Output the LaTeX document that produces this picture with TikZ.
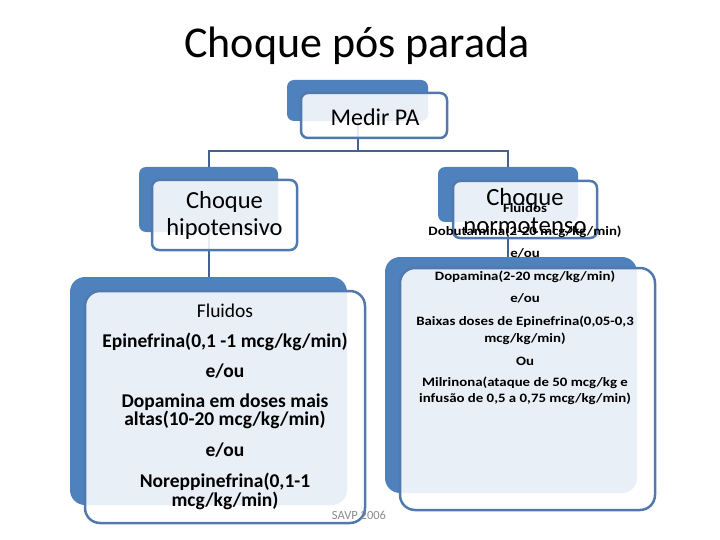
\documentclass[tikz,border=0pt]{standalone}
\usepackage{fontspec}
\setmainfont{Carlito}
\newfontfamily\widefont[FakeStretch=1.16]{Carlito}
\usepackage{xcolor}
\usepackage{tikz}
\usetikzlibrary{shapes,arrows}

\definecolor{boxblue}{HTML}{4F81BD}
\definecolor{edgeblue}{HTML}{5179AE}
\definecolor{linkblue}{HTML}{44648F}
\definecolor{notegray}{HTML}{8C8C8C}

\tikzset{
    backbox/.style={rectangle, rounded corners=7pt, fill=boxblue, draw=none, inner sep=0pt},
    frontbox/.style={rectangle, rounded corners=7pt, draw=edgeblue, line width=2.5pt, fill=white, fill opacity=0.88, text opacity=1, inner sep=0pt, align=center},
    bigcorner/.style={rounded corners=15pt},
    connector/.style={draw=linkblue, line width=2pt},
}

\begin{document}
\begin{tikzpicture}[x=1pt, y=-1pt]
    		\useasboundingbox (0,0) rectangle (720,540);
    		
    		\node (title)[font=\fontsize{44}{48}\selectfont] at (357,46) {Choque pós parada};
    		
    		% blue boxes behind
    		\node (medirback)[backbox, minimum width=141pt, minimum height=41pt] at (357.5,100.5) {};
    		\node (hipoback)[backbox, minimum width=139pt, minimum height=65pt] at (208.5,199.5) {};
    		\node (normoback)[backbox, minimum width=140pt, minimum height=55pt] at (508,194.5) {};
    		\node (leftback)[backbox, bigcorner, minimum width=277pt, minimum height=228pt] at (208.5,391) {};
    		\node (rightback)[backbox, bigcorner, minimum width=252pt, minimum height=236pt] at (511,375) {};
    		
    		\coordinate (fork) at (357.5,151);
    		\draw[connector] (medirback.south) -- (fork);
    		\draw[connector] (hipoback.north) |- (fork) -| (normoback.north);
    		\draw[connector] (hipoback.south) -- (leftback.north);
    		\draw[connector] (normoback.south) -- (normoback.south |- rightback.north);
    		
    		% front boxes
    		\node (medir)[frontbox, font=\fontsize{24}{27}\selectfont, minimum width=146pt, minimum height=45pt] at (374,115.5) {};
    		\node (hipo)[frontbox, font=\fontsize{24.5}{27}\selectfont, minimum width=145pt, minimum height=70pt] at (224.5,215) {Choque\\hipotensivo};
    		\node (normo)[frontbox, minimum width=144pt, minimum height=57pt] at (525,209.5) {};
    		\node (left)[frontbox, bigcorner, minimum width=280pt, minimum height=232pt] at (225,407) {};
    		\node (right)[frontbox, bigcorner, minimum width=255pt, minimum height=242pt] at (527.5,389) {};
    		
    		\node (medirtext)[font=\fontsize{24}{27}\selectfont] at (375,117) {Medir PA};
    		\node (normotext)[align=center, font=\fontsize{24.7}{28}\selectfont] at (525,211) {Choque\\normotenso};
    		
    		\node (lefttext)[align=center, font=\fontsize{19.5}{18.5}\selectfont\bfseries] at (225,406.5) {
    			\mdseries Fluidos\\[11.5pt]
    			Epinefrina(0,1 -1 mcg/kg/min)\\[11.5pt]
    			e/ou\\[11.5pt]
    			Dopamina em doses mais\\
    			altas(10-20 mcg/kg/min)\\[12.5pt]
    			e/ou\\[12.5pt]
    			Noreppinefrina(0,1-1\\
    			mcg/kg/min)};
    		
    		\node (righttext)[align=center, font=\widefont\fontsize{12.8}{16.5}\selectfont\bfseries] at (525,304.5) {
    			Fluidos\\[6.5pt]
    			Dobutamina(2-20 mcg/kg/min)\\[4.8pt]
    			e/ou\\[7pt]
    			Dopamina(2-20 mcg/kg/min)\\[4.8pt]
    			e/ou\\[7pt]
    			Baixas doses de Epinefrina(0,05-0,3\\
    			mcg/kg/min)\\[6.5pt]
    			Ou\\[4.8pt]
    			Milrinona(ataque de 50 mcg/kg e\\
    			infusão de 0,5 a 0,75 mcg/kg/min)};
    		
    		\node (source)[text=notegray, font=\fontsize{12.5}{14}\selectfont] at (359,515) {SAVP 2006};
\end{tikzpicture}
\end{document}
